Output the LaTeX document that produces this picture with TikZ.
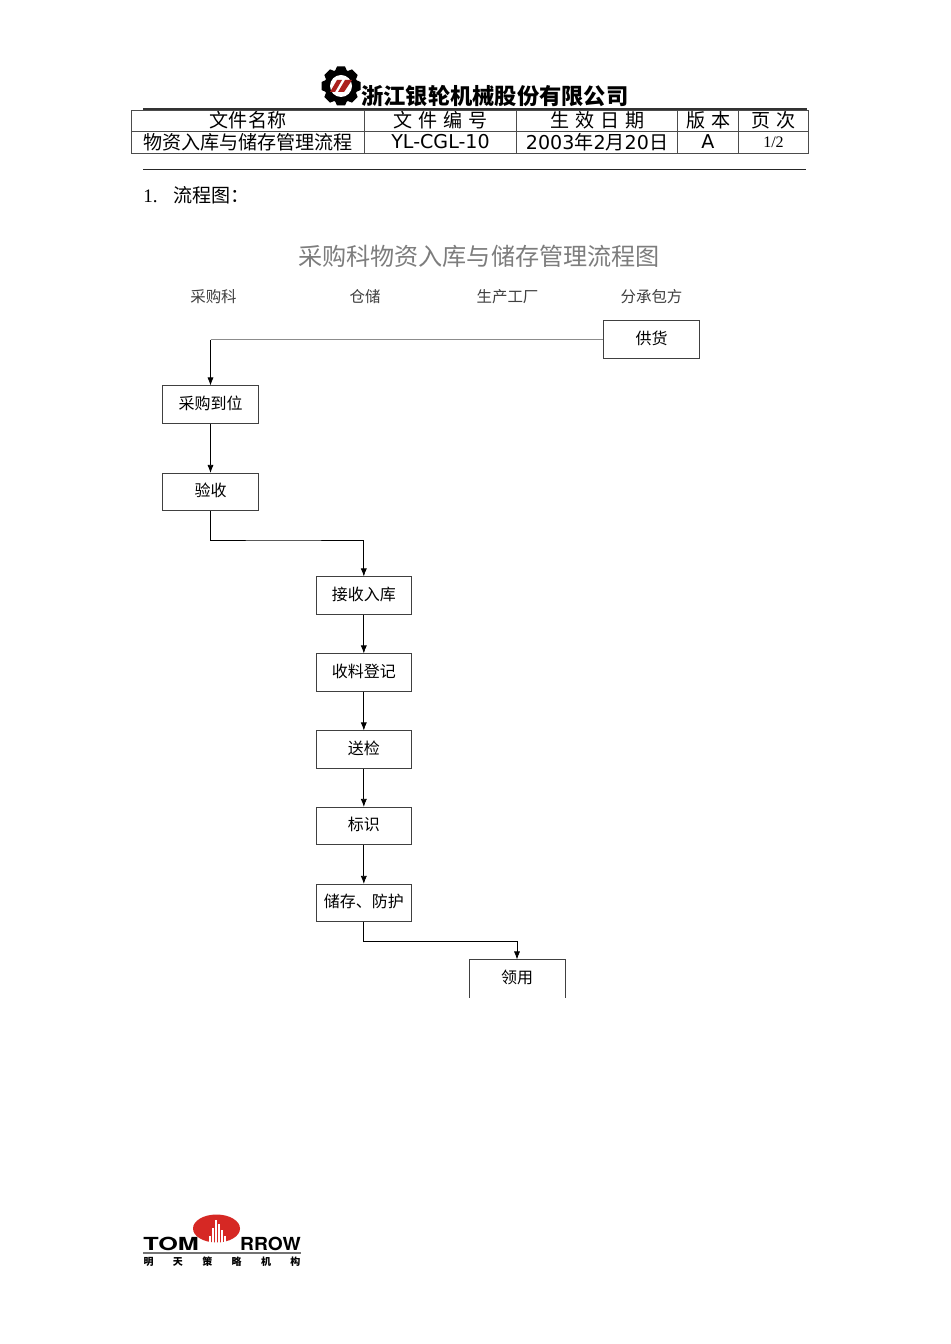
\documentclass[tikz,border=0pt]{standalone}
\usepackage{fontspec}
\setmainfont{Noto Sans CJK SC}
\newfontfamily\dvu{DejaVu Sans}
\newfontfamily\lsf{Liberation Serif}
\newfontfamily\helv{TeX Gyre Heros}
\usetikzlibrary{arrows.meta}
\definecolor{logored}{RGB}{214,40,36}
\definecolor{titlegray}{RGB}{125,125,125}
\tikzset{
flowbox/.style={draw=black!75,line width=0.6pt,minimum width=71.5pt,minimum height=28pt,inner sep=0pt,text depth=3pt,font=\fontsize{12}{14}\selectfont},
flowarrow/.style={-{Latex[length=6pt,width=4.6pt]},line width=0.55pt},
lane/.style={inner sep=0pt,text=black!75,font=\fontsize{11.6}{14}\selectfont},
cell/.style={inner sep=0pt,font=\fontsize{14.3}{16}\selectfont}
}
\begin{document}
\begin{tikzpicture}[x=0.75pt,y=-0.75pt]
\useasboundingbox (0,0) rectangle (950,1344);
\fill[white] (0,0) rectangle (950,1344);
% company logo
\begin{scope}[shift={(341,86)}]
\fill[black] (0,0) circle (16.5);
\foreach \ang in {0,45,...,315}
  \fill[black,rotate=\ang] (-6,-15) -- (-4,-19.5) -- (4,-19.5) -- (6,-15) -- cycle;
\fill[white] (0,0) circle (11);
\fill[logored!80!black] (-11,6) -- (-4,-6) -- (1,-6) -- (-6,6) -- cycle;
\fill[logored!80!black] (-3,6) -- (4,-6) -- (11,-6) -- (3,6) -- cycle;
\end{scope}
\node[anchor=west,inner sep=0pt,font=\fontsize{16.7}{20}\bfseries\selectfont] (company) at (361,96) {浙江银轮机械股份有限公司};
% header table
\draw[black!80,line width=1.1pt] (143,109) -- (807,109);
\draw[black!70,line width=0.6pt] (131,110) rectangle (808,153);
\draw[black!70,line width=0.6pt] (131,131) -- (808,131);
\foreach \colx in {364,516,677,738}
  \draw[black!70,line width=0.6pt] (\colx,110) -- (\colx,153);
\node[cell] (namehead) at (248,120) {文件名称};
\node[cell] (codehead) at (440.5,120) {文\hspace{4.3pt}件\hspace{4.3pt}编\hspace{4.3pt}号};
\node[cell] (datehead) at (597.5,120) {生\hspace{4.3pt}效\hspace{4.3pt}日\hspace{4.3pt}期};
\node[cell] (verhead) at (709,120) {版\hspace{4.5pt}本};
\node[cell] (pagehead) at (773.5,120) {页\hspace{4.5pt}次};
\node[cell] (nameval) at (248,142) {物资入库与储存管理流程};
\node[cell] (codeval) at (440.5,142) {\dvu YL-CGL-10};
\node[cell] (dateval) at (597,142) {{\dvu 2003}年{\dvu 2}月{\dvu 20}日};
\node[cell] (verval) at (708,142) {\dvu A};
\node[cell] (pageval) at (773.5,142) {\lsf\fontsize{12}{14}\selectfont 1/2};
\draw[black!85,line width=0.8pt] (143,169.5) -- (806,169.5);
\node[cell,anchor=west] (section) at (143,195) {{\lsf 1.}\hspace{12pt}流程图：};
% chart title and lanes
\node[inner sep=0pt,text=titlegray,font=\fontsize{18.1}{22}\selectfont] (charttitle) at (479,256) {采购科物资入库与储存管理流程图};
\node[lane] (lanebuy) at (213.5,296.5) {采购科};
\node[lane] (lanestore) at (365,296.5) {仓储};
\node[lane] (lanefactory) at (507.5,296.5) {生产工厂};
\node[lane] (lanesub) at (651.5,296.5) {分承包方};
% boxes
\node[flowbox] (supply) at (651.5,339.5) {供货};
\node[flowbox] (purchase) at (210.5,404.5) {采购到位};
\node[flowbox] (check) at (210.5,492) {验收};
\node[flowbox] (receive) at (363.8,595.5) {接收入库};
\node[flowbox] (register) at (363.8,672.5) {收料登记};
\node[flowbox] (inspect) at (363.8,749.5) {送检};
\node[flowbox] (mark) at (363.8,826) {标识};
\node[flowbox] (keep) at (363.8,903) {储存、防护};
\node[flowbox,draw=none] (use) at (517,978.5) {领用};
\draw[black!75,line width=0.6pt] (use.south west) |- (use.north east) -- (use.south east);
% connectors
\coordinate (corner) at (purchase.north |- supply.west);
\coordinate (turncheck) at (280,540);
\coordinate (turnkeep) at (440,941);
\draw[black!45,line width=0.7pt] (supply.west) -- (corner);
\draw[flowarrow] (corner) -- (purchase.north);
\draw[flowarrow] (purchase) -- (check);
\draw[flowarrow] (check.south) |- (turncheck) -| (receive.north);
\draw[flowarrow] (receive) -- (register);
\draw[flowarrow] (register) -- (inspect);
\draw[flowarrow] (inspect) -- (mark);
\draw[flowarrow] (mark) -- (keep);
\draw[flowarrow] (keep.south) |- (turnkeep) -| (use.north);
% consultant logo
\fill[logored] (216.5,1228.5) ellipse (23.5 and 14);
\foreach \towx/\towtop in {210/1236,213/1228,216/1220,219/1224,222/1230,225/1236}
  \fill[white] (\towx-0.6,\towtop) rectangle (\towx+0.6,1243);
\node[inner sep=0pt,anchor=west,font=\helv\fontsize{13.5}{16}\bfseries\selectfont,xscale=1.4] (tom) at (143,1243.5) {TOM};
\node[inner sep=0pt,anchor=east,font=\helv\fontsize{13.5}{16}\bfseries\selectfont,xscale=1.07] (rrow) at (301,1243.5) {RROW};
\draw[black!55,line width=1.1pt] (143,1253) -- (301,1253);
\node[inner sep=0pt,font=\fontsize{7.5}{9}\bfseries\selectfont] (tomcn) at (222,1261.5) {明\hspace{14.5pt}天\hspace{14.5pt}策\hspace{14.5pt}略\hspace{14.5pt}机\hspace{14.5pt}构};
\end{tikzpicture}
\end{document}
